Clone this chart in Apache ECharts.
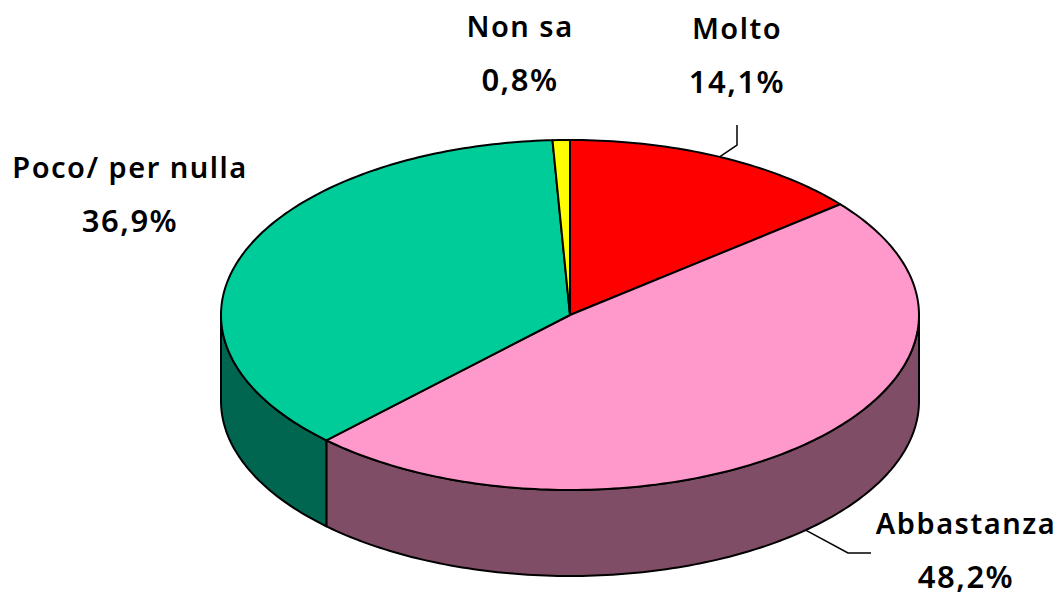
<!DOCTYPE html>
<html>
<head>
<meta charset="utf-8">
<style>
  html, body { margin: 0; padding: 0; background: #fff; }
  #chart { width: 1058px; height: 594px; }
  /* the original labels are set quite wide */
  #chart text { letter-spacing: 1.5px; }
</style>
<script src="https://cdn.jsdelivr.net/npm/echarts@6/dist/echarts.min.js"></script>
</head>
<body>
<div id="chart"></div>
<script>
const categories = ['Molto', 'Abbastanza', 'Poco/ per nulla', 'Non sa'];
const shares = [14.1, 48.2, 36.9, 0.8];

const topColors = ['#ff0000', '#ff99cc', '#00cc99', '#ffff00'];
const sideColors = ['#800000', '#804d66', '#006650', '#808000'];

// layout of the tilted pie
const cx = 570, cy = 315, rx = 349, ry = 175, depth = 86;
const font = { fontFamily: '"Noto Sans"', fontWeight: 600 };
const nameSize = 29, valueSize = 31;
const labelPos = [[737, 27], [966, 522], [130, 166], [520, 25]];
const lineGap = 54;
// bend points of the leader lines, only two labels have one
const leaders = [[[737, 145], [737, 125]], [[848, 553], [871, 553]], null, null];

const total = shares.reduce((a, b) => a + b, 0);
const startAngle = i => shares.slice(0, i).reduce((a, b) => a + b, 0) / total * 360;

function rim(deg, drop) {
    const r = deg * Math.PI / 180;
    return [cx + rx * Math.sin(r), cy - ry * Math.cos(r) + (drop || 0)];
}

function arc(from, to, drop) {
    const pts = [];
    for (let a = from; a < to; a += 1) pts.push(rim(a, drop));
    pts.push(rim(to, drop));
    return pts;
}

const lineStyle = { stroke: '#000', lineWidth: 2, lineJoin: 'round' };

function renderSlice(params, api) {
    const i = params.dataIndex;
    const from = startAngle(i);
    const to = from + api.value(1) / total * 360;
    const children = [];

    // only the front half of the rim is visible
    const a = Math.max(from, 90), b = Math.min(to, 270);
    if (b > a) {
        children.push({
            type: 'polygon',
            shape: { points: arc(a, b, 0).concat(arc(a, b, depth).reverse()) },
            style: Object.assign({ fill: sideColors[i] }, lineStyle)
        });
    }
    children.push({
        type: 'polygon',
        shape: { points: [[cx, cy]].concat(arc(from, to, 0)) },
        style: Object.assign({ fill: topColors[i] }, lineStyle)
    });

    if (leaders[i]) {
        const mid = (from + to) / 2;
        const onBack = mid > 90 && mid < 270;
        children.push({
            type: 'polyline',
            shape: { points: [rim(mid, onBack ? depth : 0)].concat(leaders[i]) },
            style: { fill: null, stroke: '#000', lineWidth: 1.5 }
        });
    }

    const pct = api.value(1).toFixed(1).replace('.', ',') + '%';
    [categories[i], pct].forEach((txt, n) => {
        children.push({
            type: 'text',
            x: labelPos[i][0],
            y: labelPos[i][1] + n * lineGap,
            style: Object.assign({
                text: txt,
                fill: '#000',
                fontSize: n ? valueSize : nameSize,
                align: 'center',
                verticalAlign: 'middle'
            }, font)
        });
    });
    return { type: 'group', children };
}

const chart = echarts.init(document.getElementById('chart'), null, { renderer: 'svg' });
chart.setOption({
    animation: false,
    backgroundColor: '#fff',
    series: [{
        type: 'custom',
        coordinateSystem: 'none',
        renderItem: renderSlice,
        data: categories.map((c, i) => [i, shares[i]])
    }]
});
</script>
</body>
</html>
